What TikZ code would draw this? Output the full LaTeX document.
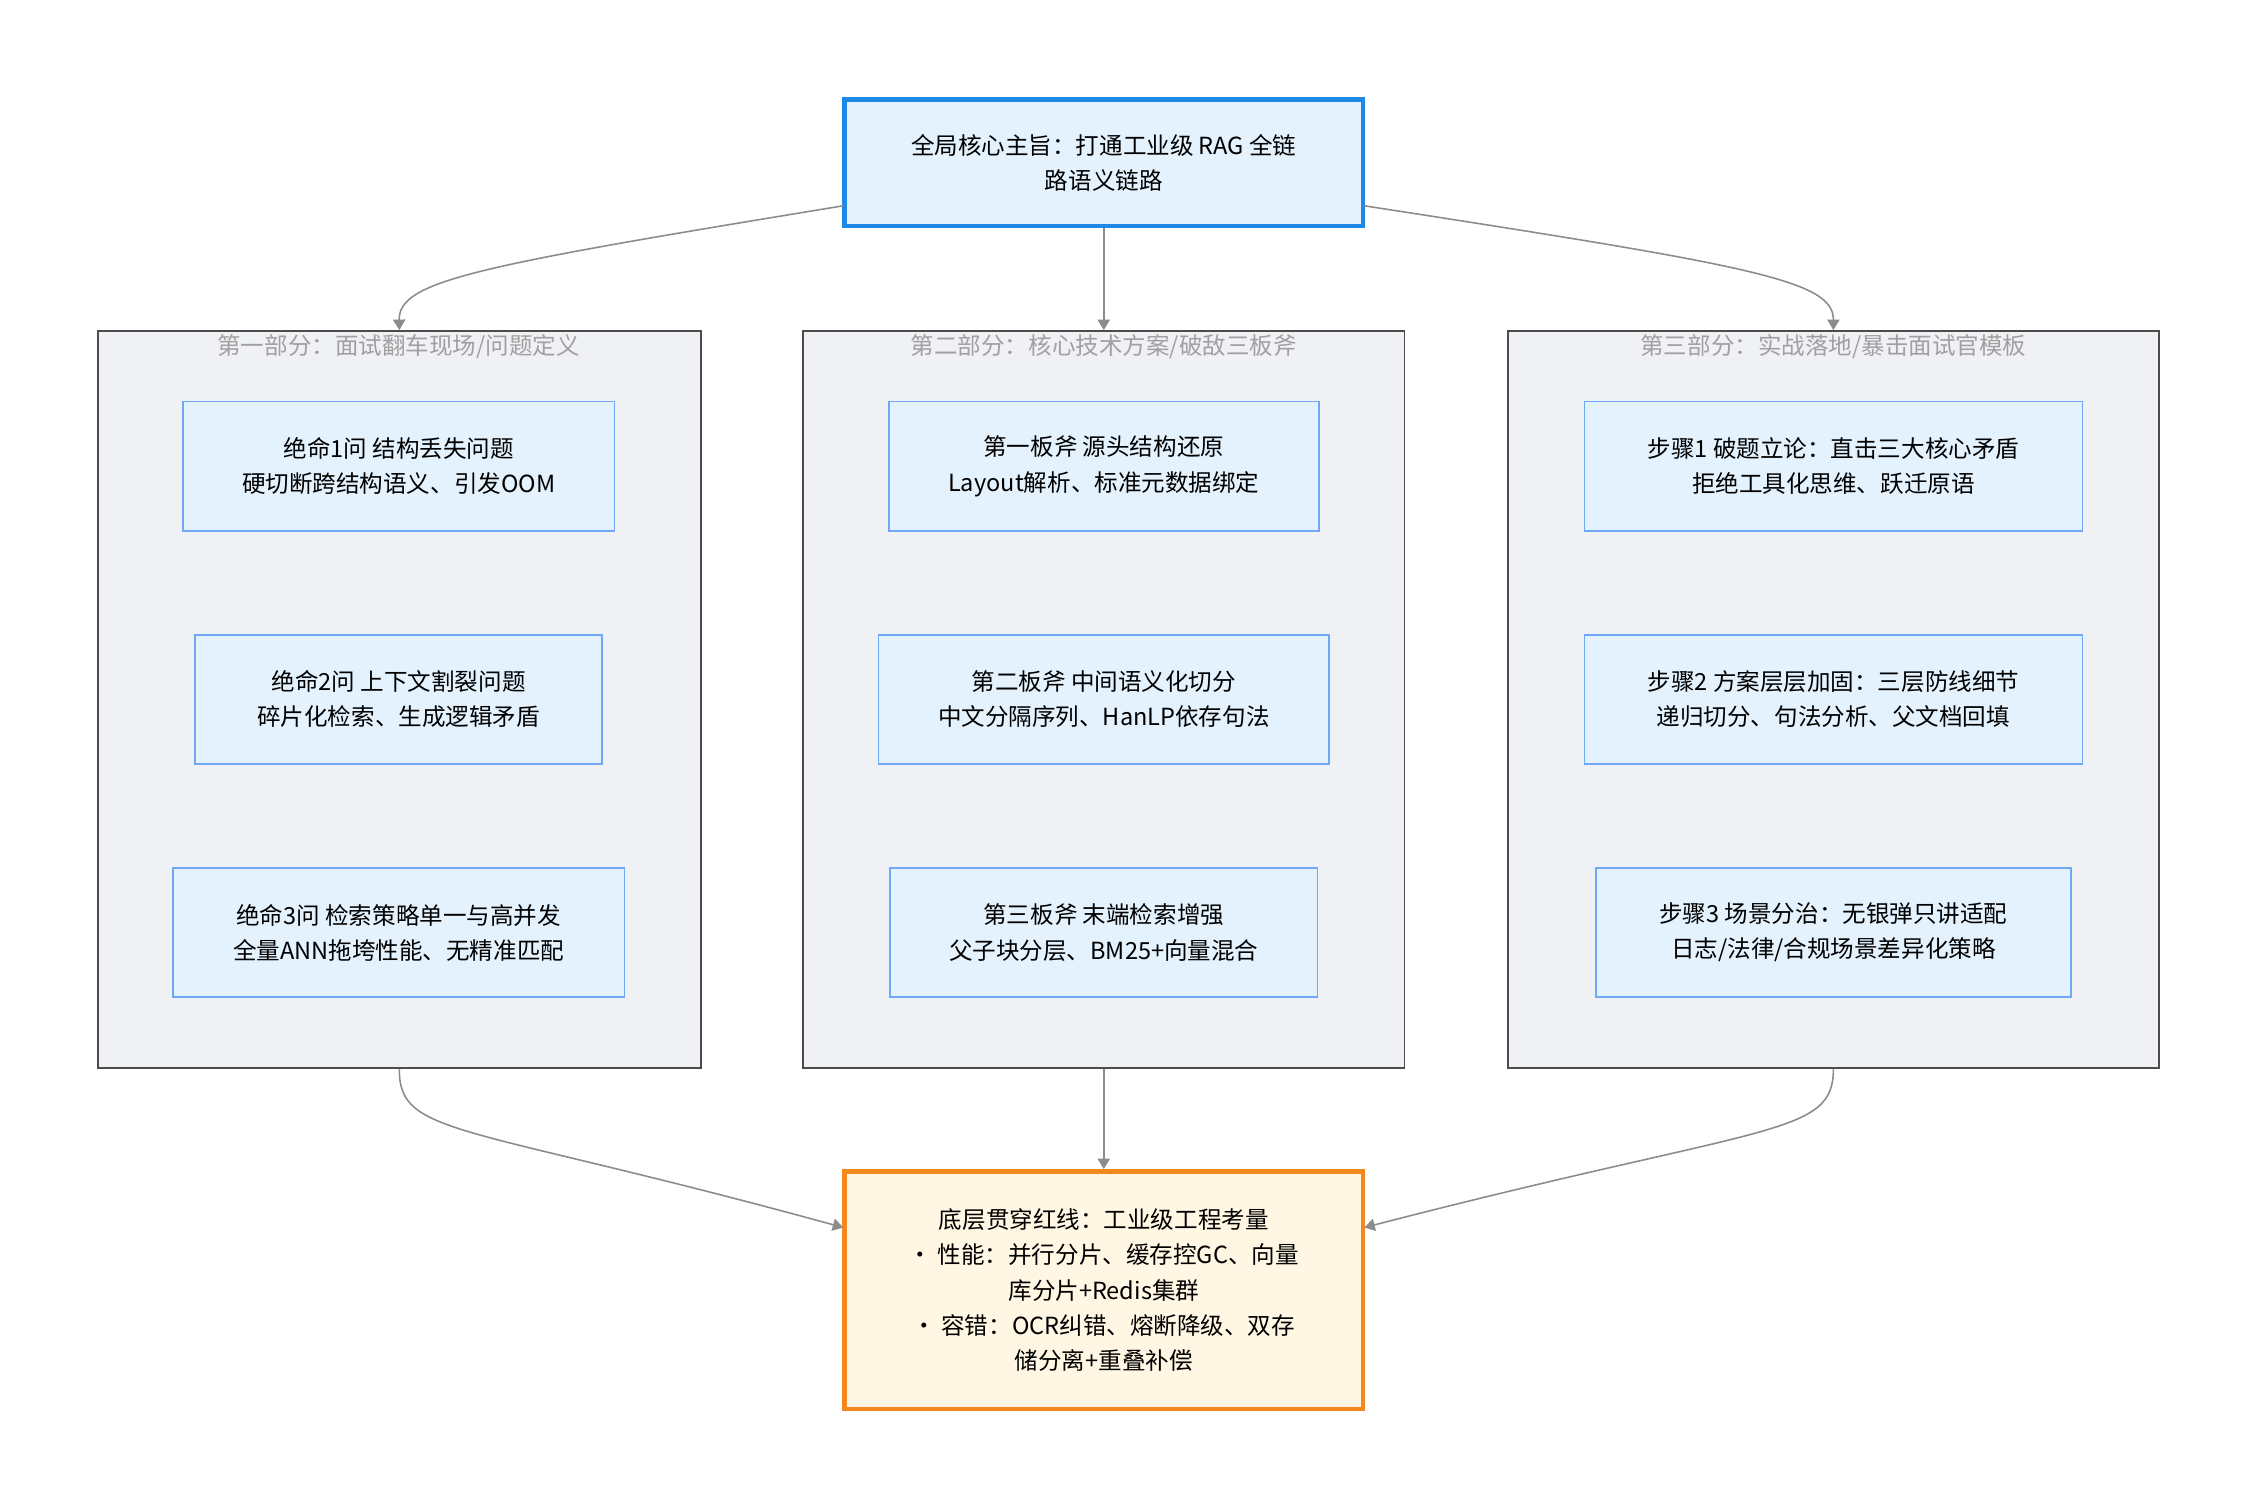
\documentclass[tikz,border=0pt]{standalone}
\usepackage{fontspec}
\setmainfont{Noto Sans CJK SC}
\usetikzlibrary{arrows.meta,positioning}
\definecolor{bluebd}{HTML}{1E88E5}
\definecolor{bluefill}{HTML}{E3F2FD}
\definecolor{itembd}{HTML}{6FA8F5}
\definecolor{orangebd}{HTML}{F5871F}
\definecolor{orangefill}{HTML}{FFF6E3}
\definecolor{groupfill}{HTML}{F0F1F5}
\definecolor{titlegray}{HTML}{A0A0A0}
\tikzset{
  group/.style={draw=black!70,fill=groupfill,line width=0.5pt,inner sep=0pt},
  grouptitle/.style={text=titlegray,font=\fontsize{6.7pt}{8pt}\selectfont},
  item/.style={draw=itembd,fill=bluefill,line width=0.5pt,align=center,
    font=\fontsize{6.7pt}{10pt}\selectfont,inner sep=0pt},
  link/.style={draw=black!45,line width=0.45pt,-{Triangle[length=3pt,width=3.5pt]}}
}
\begin{document}
\begin{tikzpicture}[x=0.01439cm,y=-0.01439cm]
  \useasboundingbox (0,0) rectangle (1560,1042);
  % groups
  \node[group,minimum width=419*0.01439cm,minimum height=512*0.01439cm] (g1) at (277.5,486) {};
  \node[group,minimum width=418*0.01439cm,minimum height=512*0.01439cm] (g2) at (767,486) {};
  \node[group,minimum width=452*0.01439cm,minimum height=512*0.01439cm] (g3) at (1274,486) {};
  \node[grouptitle] (t1) at (277,241) {第一部分：面试翻车现场/问题定义};
  \node[grouptitle] (t2) at (767,241) {第二部分：核心技术方案/破敌三板斧};
  \node[grouptitle] (t3) at (1274,241) {第三部分：实战落地/暴击面试官模板};
  % top and bottom
  \node[item,draw=bluebd,line width=1.3pt,minimum width=360*0.01439cm,minimum height=88*0.01439cm]
    (core) at (767,113) {全局核心主旨：打通工业级 RAG 全链\\路语义链路};
  \node[item,draw=orangebd,fill=orangefill,line width=1.3pt,minimum width=360*0.01439cm,minimum height=165*0.01439cm]
    (base) at (767,896.5) {底层贯穿红线：工业级工程考量\\• 性能：并行分片、缓存控GC、向量\\库分片+Redis集群\\• 容错：OCR纠错、熔断降级、双存\\储分离+重叠补偿};
  % items
  \node[item,minimum width=300*0.01439cm,minimum height=90*0.01439cm] (a1) at (277,324) {绝命1问 结构丢失问题\\硬切断跨结构语义、引发OOM};
  \node[item,minimum width=283*0.01439cm,minimum height=90*0.01439cm] (a2) at (277,486) {绝命2问 上下文割裂问题\\碎片化检索、生成逻辑矛盾};
  \node[item,minimum width=314*0.01439cm,minimum height=90*0.01439cm] (a3) at (277,648) {绝命3问 检索策略单一与高并发\\全量ANN拖垮性能、无精准匹配};
  \node[item,minimum width=299*0.01439cm,minimum height=90*0.01439cm] (b1) at (767,324) {第一板斧 源头结构还原\\Layout解析、标准元数据绑定};
  \node[item,minimum width=313*0.01439cm,minimum height=90*0.01439cm] (b2) at (767,486) {第二板斧 中间语义化切分\\中文分隔序列、HanLP依存句法};
  \node[item,minimum width=297*0.01439cm,minimum height=90*0.01439cm] (b3) at (767,648) {第三板斧 末端检索增强\\父子块分层、BM25+向量混合};
  \node[item,minimum width=346*0.01439cm,minimum height=90*0.01439cm] (c1) at (1274,324) {步骤1 破题立论：直击三大核心矛盾\\拒绝工具化思维、跃迁原语};
  \node[item,minimum width=346*0.01439cm,minimum height=90*0.01439cm] (c2) at (1274,486) {步骤2 方案层层加固：三层防线细节\\递归切分、句法分析、父文档回填};
  \node[item,minimum width=330*0.01439cm,minimum height=90*0.01439cm] (c3) at (1274,648) {步骤3 场景分治：无银弹只讲适配\\日志/法律/合规场景差异化策略};
  % connectors
  \coordinate (cl) at (586,143);
  \coordinate (cr) at (948,143);
  \coordinate (bl) at (586,853);
  \coordinate (br) at (948,853);
  \draw[link] (cl) .. controls (330,185) and (277,195) .. (g1.north);
  \draw[link] (core) -- (g2.north);
  \draw[link] (cr) .. controls (1220,185) and (1274,195) .. (g3.north);
  \draw[link] (g1.south) .. controls (277,790) and (320,780) .. (bl);
  \draw[link] (g2.south) -- (base);
  \draw[link] (g3.south) .. controls (1274,790) and (1230,780) .. (br);
\end{tikzpicture}
\end{document}
